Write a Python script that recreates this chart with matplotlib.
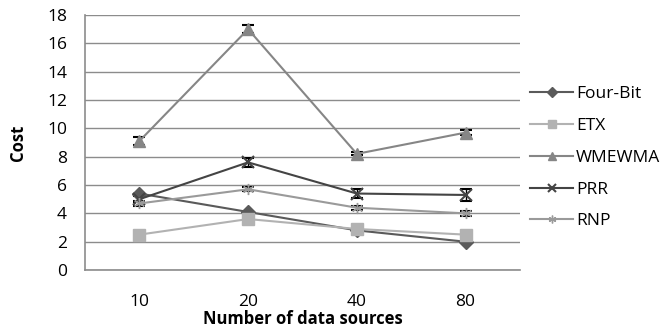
import numpy as np
import matplotlib
matplotlib.use("Agg")
import matplotlib.pyplot as plt

plt.rcParams["font.family"] = ["Open Sans", "DejaVu Sans"]

# ===================== data =====================
sources = ["10", "20", "40", "80"]
four_bit = [5.4, 4.1, 2.8, 2.0]
etx = [2.5, 3.6, 2.9, 2.5]
wmewma = [9.1, 17.0, 8.2, 9.7]
prr = [5.0, 7.6, 5.4, 5.3]
rnp = [4.7, 5.7, 4.4, 4.0]

wmewma_err = [0.3, 0.3, 0.1, 0.2]
prr_err = [0.2, 0.3, 0.3, 0.4]
rnp_err = [0.15, 0.15, 0.15, 0.15]

series = [
    ("Four-Bit", four_bit, None, "#5a5a5a", "D", 7),
    ("ETX", etx, None, "#b2b2b2", "s", 8),
    ("WMEWMA", wmewma, wmewma_err, "#868686", "^", 9),
    ("PRR", prr, prr_err, "#444444", "x", 8),
    ("RNP", rnp, rnp_err, "#9a9a9a", (6, 2, 0), 8),
]

fig, ax = plt.subplots(figsize=(6.64, 3.33), dpi=100)
fig.subplots_adjust(left=0.128, right=0.783, top=0.955, bottom=0.189)

x = np.arange(len(sources))
for name, vals, err, color, marker, ms in series:
    if err is not None:
        ax.errorbar(x, vals, yerr=err, fmt="none", ecolor="black",
                    elinewidth=1, capsize=4, capthick=1.5, zorder=3)
    ax.plot(x, vals, color=color, marker=marker, markersize=ms,
            markeredgecolor=color, markeredgewidth=1.5 if marker == "x" else 1,
            linewidth=1.5, label=name, zorder=4)

ax.set_xlim(-0.5, len(sources) - 0.5)
ax.set_ylim(0, 18)
ax.set_yticks(range(0, 19, 2))
ax.set_xticks(x)
ax.set_xticklabels(sources)
ax.tick_params(length=0, labelsize=12.5)
ax.tick_params(axis="y", pad=13)
ax.tick_params(axis="x", pad=17)
ax.yaxis.grid(True, color="#8c8c8c", linewidth=1)
ax.set_axisbelow(True)
for s in ["top", "right"]:
    ax.spines[s].set_visible(False)
for s in ["left", "bottom"]:
    ax.spines[s].set_color("#8c8c8c")
    ax.spines[s].set_linewidth(1.2)

ax.set_xlabel("Number of data sources", fontsize=12, fontweight="bold", labelpad=0)
ax.set_ylabel("Cost", fontsize=12, fontweight="bold", labelpad=14)

ax.legend(loc="center left", bbox_to_anchor=(0.995, 0.44), frameon=False,
          fontsize=12.5, handlelength=2.5, labelspacing=0.9, handletextpad=0.15,
          borderaxespad=0.3, markerscale=0.7)

fig.savefig("out.png", dpi=100)
